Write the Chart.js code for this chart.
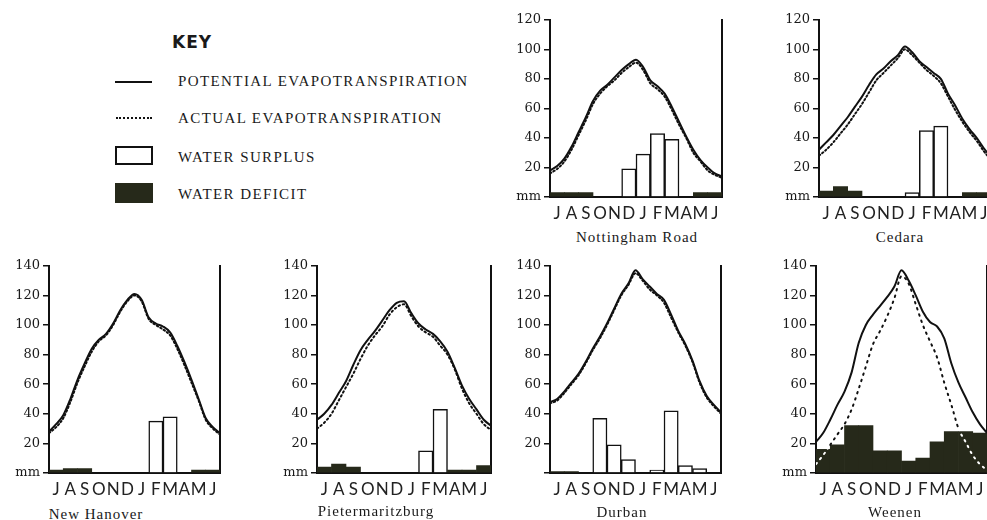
<!DOCTYPE html>
<html>
<head>
<meta charset="utf-8">
<script src="https://cdn.jsdelivr.net/npm/chart.js@4.4.1/dist/chart.umd.min.js"></script>
<style>
  html, body { margin: 0; padding: 0; background: #fff; width: 987px; height: 520px; overflow: hidden; position: relative; color: #1a1a1a; font-family: 'Liberation Serif', serif; }
  canvas { position: absolute; }
  .titre { position: absolute; font-size: 15px; line-height: 18px; letter-spacing: 1px; white-space: nowrap; transform: translateX(-50%); }
  .cle { position: absolute; font-size: 15px; line-height: 20px; letter-spacing: 1.4px; white-space: nowrap; }
  .cle-titre { position: absolute; font-family: 'DejaVu Sans', sans-serif; font-weight: bold; font-size: 17px; line-height: 20px; letter-spacing: 1px; }
  .sym { position: absolute; }
</style>
</head>
<body>

<!-- KEY -->
<div class="cle-titre" style="left:172px; top:32px;">KEY</div>
<div class="sym" style="left:115px; top:81px; width:37px; border-top:2px solid #111;"></div>
<div class="cle" style="left:178px; top:71px;">POTENTIAL EVAPOTRANSPIRATION</div>
<div class="sym" style="left:116px; top:117px; width:36px; border-top:2px dotted #111;"></div>
<div class="cle" style="left:178px; top:108px;">ACTUAL EVAPOTRANSPIRATION</div>
<div class="sym" style="left:115px; top:146px; width:34px; height:15px; border:2px solid #111;"></div>
<div class="cle" style="left:178px; top:147px;">WATER SURPLUS</div>
<div class="sym" style="left:115px; top:183px; width:38px; height:20px; background:#26291a;"></div>
<div class="cle" style="left:178px; top:184px;">WATER DEFICIT</div>

<canvas id="chartNottingham" width="224" height="218" style="left:502px; top:9px;"></canvas>
<canvas id="chartCedara" width="224" height="218" style="left:771px; top:9px;"></canvas>
<canvas id="chartHanover" width="223" height="248" style="left:1px; top:255px;"></canvas>
<canvas id="chartPmb" width="226" height="248" style="left:269px; top:255px;"></canvas>
<canvas id="chartDurban" width="223" height="248" style="left:502px; top:255px;"></canvas>
<canvas id="chartWeenen" width="223" height="248" style="left:768px; top:255px;"></canvas>

<div class="titre" style="left:637px; top:228px;">Nottingham Road</div>
<div class="titre" style="left:900px; top:228px;">Cedara</div>
<div class="titre" style="left:96px; top:505px;">New Hanover</div>
<div class="titre" style="left:376px; top:502px;">Pietermaritzburg</div>
<div class="titre" style="left:622px; top:503px;">Durban</div>
<div class="titre" style="left:895px; top:503px;">Weenen</div>

<script>
// mois de juillet à juin
const months = ['J','A','S','O','N','D','J','F','M','A','M','J'];
// abscisse des points des courbes (en mois depuis début juillet)
const halfMonths = [0,0.5,1,1.5,2,2.5,3,3.5,4,4.5,5,5.5,6,6.5,7,7.5,8,8.5,9,9.5,10,10.5,11,11.5,12];

// Nottingham Road
const nottinghamPotential = [18,21,26,34,44,54,65,72,76,81,86,90,93,88,79,75,70,61,51,41,32,25,20,16,14];
const nottinghamActual    = [16,19,24,32,42,52,63,70,75,79,84,88,91,86,77,73,68,59,49,40,30,24,18,15,13];
const nottinghamSurplus   = [0,0,0,0,0,19,29,43,39,0,0,0];
const nottinghamDeficit   = [3,3,3,0,0,0,0,0,0,0,3,3];

// Cedara
const cedaraPotential = [32,37,42,48,54,61,68,76,83,87,92,96,102,98,92,88,84,80,70,62,53,46,40,33,27];
const cedaraActual    = [28,32,37,43,49,56,63,71,79,84,89,94,100,96,91,86,82,77,68,59,51,44,38,31,25];
const cedaraSurplus   = [0,0,0,0,0,0,3,45,48,0,0,0];
const cedaraDeficit   = [4,7,4,0,0,0,0,0,0,0,3,3];

// New Hanover
const hanoverPotential = [28,33,39,50,63,74,84,90,94,101,110,117,121,117,105,101,99,95,86,75,63,50,37,31,27];
const hanoverActual    = [27,31,37,48,61,72,82,89,93,100,109,116,120,116,104,100,97,93,84,73,61,49,36,30,26];
const hanoverSurplus   = [0,0,0,0,0,0,0,35,38,0,0,0];
const hanoverDeficit   = [2,3,3,0,0,0,0,0,0,0,2,2];

// Pietermaritzburg
const pmbPotential = [36,40,46,54,62,73,83,90,96,103,110,115,116,108,101,97,94,89,82,71,59,50,43,36,32];
const pmbActual    = [30,34,40,49,58,67,77,86,93,99,107,112,114,106,99,95,92,86,80,70,57,47,40,33,29];
const pmbSurplus   = [0,0,0,0,0,0,0,15,43,0,0,0];
const pmbDeficit   = [4,6,4,0,0,0,0,0,0,2,2,5];

// Durban
const durbanPotential = [48,50,55,61,67,75,84,92,101,111,121,128,137,131,126,121,117,107,96,87,76,62,52,46,41];
const durbanActual    = [47,49,54,60,66,74,83,91,100,110,120,127,135,130,124,120,115,105,95,86,75,61,51,45,40];
const durbanSurplus   = [0,0,0,37,19,9,0,2,42,5,3,0];
const durbanDeficit   = [1,1,0,0,0,0,0,0,0,0,0,0];

// Weenen
const weenenPotential = [21,27,36,46,55,68,88,100,107,113,119,126,137,130,120,109,102,99,91,74,61,51,41,33,27];
const weenenActual    = [6,12,19,26,33,43,57,72,87,96,106,118,133,128,114,100,89,78,61,46,30,21,12,6,2];
const weenenSurplus   = [0,0,0,0,0,0,0,0,0,0,0,0];
const weenenDeficit   = [16,19,32,32,15,15,8,10,21,28,28,27];

const INK = '#111';
const DEFICIT_COLOR = '#26291a';

function points(values) {
  return halfMonths.map((m, i) => ({ x: m, y: values[i] }));
}

// dessine un graphique de station
function drawStation(id, yMax, potential, actual, surplus, deficit, zeroLabel, dotGap) {
  const ctx = document.getElementById(id).getContext('2d');
  return new Chart(ctx, {
    type: 'bar',
    data: {
      labels: months,
      datasets: [
        {
          type: 'line', xAxisID: 'x2', data: points(potential),
          borderColor: INK, borderWidth: 2, pointRadius: 0,
          cubicInterpolationMode: 'monotone', order: 0
        },
        {
          type: 'line', xAxisID: 'x2', data: points(actual),
          borderColor: INK, borderWidth: 2, borderDash: [1.5, dotGap], borderCapStyle: 'round',
          pointRadius: 0, cubicInterpolationMode: 'monotone', order: 0,
          // pointillé blanc quand il passe dans le déficit
          segment: {
            borderColor: c => {
              const m = (c.p0.parsed.x + c.p1.parsed.x) / 2;
              const d = deficit[Math.min(11, Math.floor(m))];
              return (c.p0.parsed.y + c.p1.parsed.y) / 2 < d ? '#fff' : INK;
            }
          }
        },
        {
          data: surplus.map(v => v || null),
          backgroundColor: '#fff', borderColor: INK, borderWidth: 1.5,
          grouped: false, barPercentage: 1, categoryPercentage: 1, order: 2
        },
        {
          data: deficit.map(v => v || null),
          backgroundColor: DEFICIT_COLOR, borderWidth: 0,
          grouped: false, barPercentage: 1, categoryPercentage: 1, order: 1
        }
      ]
    },
    options: {
      responsive: false,
      animation: false,
      layout: { padding: { top: 8, right: 3, left: 0, bottom: 0 } },
      plugins: { legend: { display: false }, tooltip: { enabled: false } },
      scales: {
        x: {
          type: 'category', offset: true,
          grid: { display: false, drawTicks: false },
          border: { display: true, color: INK, width: 2 },
          ticks: { color: '#222', font: { family: 'Lato', size: 17 }, padding: 6, autoSkip: false, maxRotation: 0 },
          afterFit: s => { s.height = 30; }
        },
        // axe caché pour les courbes, sans décalage
        x2: { type: 'linear', min: 0, max: 12, offset: false, display: false },
        y: {
          min: 0, max: yMax,
          ticks: {
            stepSize: 20, color: '#1a1a1a', padding: 3,
            font: { family: 'DejaVu Serif', size: 13 },
            callback: v => v === 0 ? zeroLabel : v
          },
          grid: { display: true, drawOnChartArea: false, drawTicks: true, tickLength: 6, color: INK, lineWidth: 1.5 },
          border: { display: true, color: INK, width: 2 },
          afterFit: s => { s.width = 48; }
        },
        yR: {
          type: 'linear', position: 'right', display: true,
          ticks: { display: false },
          grid: { display: false, drawTicks: false },
          border: { display: true, color: INK, width: 2 },
          afterFit: s => { s.width = 1; }
        }
      }
    }
  });
}

drawStation('chartNottingham', 120, nottinghamPotential, nottinghamActual, nottinghamSurplus, nottinghamDeficit, 'mm', 2.5);
drawStation('chartCedara', 120, cedaraPotential, cedaraActual, cedaraSurplus, cedaraDeficit, 'mm', 2.5);
drawStation('chartHanover', 140, hanoverPotential, hanoverActual, hanoverSurplus, hanoverDeficit, 'mm', 2.5);
drawStation('chartPmb', 140, pmbPotential, pmbActual, pmbSurplus, pmbDeficit, 'mm', 3);
drawStation('chartDurban', 140, durbanPotential, durbanActual, durbanSurplus, durbanDeficit, '', 2.5);
drawStation('chartWeenen', 140, weenenPotential, weenenActual, weenenSurplus, weenenDeficit, 'mm', 5);
</script>
</body>
</html>
